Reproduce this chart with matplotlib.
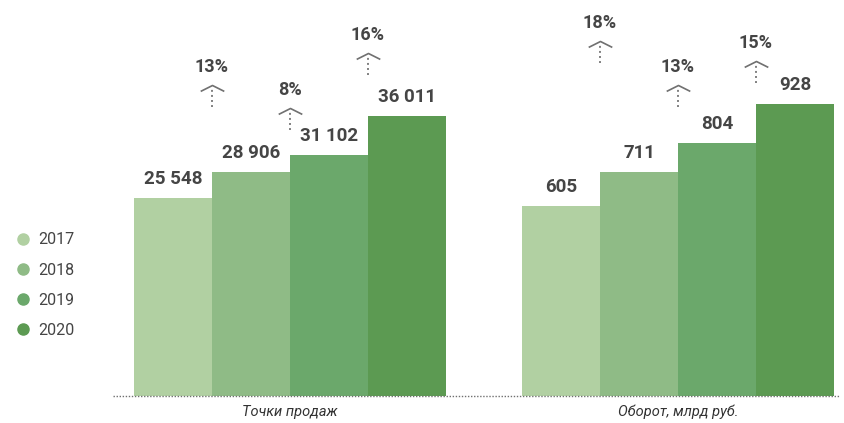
import matplotlib.pyplot as plt
from matplotlib.lines import Line2D
from matplotlib.path import Path

# ── Data ──────────────────────────────────────────────────────────────
YEARS = ["2017", "2018", "2019", "2020"]
CATEGORIES = ["Точки продаж", "Оборот, млрд руб."]
POINTS = [25548, 28906, 31102, 36011]
TURNOVER = [605, 711, 804, 928]
POINTS_GROWTH = ["13%", "8%", "16%"]
TURNOVER_GROWTH = ["18%", "13%", "15%"]

# ── Style ─────────────────────────────────────────────────────────────
COLORS = ["#b1d0a2", "#8fbb86", "#6ba86b", "#5c9a52"]
TEXT = "#454545"
W, H = 844, 423
BASE = 396  # baseline, px from top
# arrow bottoms (px from top) for the growth markers
POINTS_ARROW_Y = [107, 130, 75]
TURNOVER_ARROW_Y = [63, 107, 83]

plt.rcParams["font.family"] = ["Roboto", "DejaVu Sans"]

fig = plt.figure(figsize=(W / 100, H / 100), dpi=100)
fig.patch.set_facecolor("white")

CHEVRON = Path([(-1, -0.5), (0, 0), (1, -0.5)], [Path.MOVETO, Path.LINETO, Path.LINETO])


def fmt(v):
    return f"{v:,}".replace(",", " ")


def draw_group(left_px, values, growth, arrow_y, ymax, label):
    ax = fig.add_axes([left_px / W, (H - BASE) / H, 312 / W, BASE / H])
    x = range(len(values))
    ax.bar(x, values, width=1.0, color=COLORS, align="center")
    ax.set_xlim(-0.5, len(values) - 0.5)
    ax.set_ylim(0, ymax)
    ax.axis("off")
    for xi, v in zip(x, values):
        ax.annotate(fmt(v), (xi, v), xytext=(0, 10), textcoords="offset pixels",
                    ha="center", va="bottom", fontsize=13.5, fontweight="bold", color=TEXT)
    for i, (g, py) in enumerate(zip(growth, arrow_y)):
        xb = i + 0.5
        yb = (BASE - py) / BASE
        trans = ax.get_xaxis_transform()
        yt = yb + 22 / BASE
        ax.plot([xb, xb], [yb, yt - 3 / BASE], transform=trans, color="#808080",
                lw=1.4, ls=(0, (1, 1.6)), clip_on=False)
        ax.plot([xb], [yt], transform=trans, marker=CHEVRON, markersize=17,
                mfc="none", mec="#707070", mew=1.2, clip_on=False)
        ax.text(xb, yt + 9 / BASE, g, transform=trans, ha="center", va="bottom",
                fontsize=13, fontweight="bold", color=TEXT, clip_on=False)
    fig.text((left_px + 156) / W, 1 - 412 / H, label, ha="center", va="center",
             fontsize=10.5, style="italic", color="#333333")
    return ax


draw_group(134, POINTS, POINTS_GROWTH, POINTS_ARROW_Y, 51000, CATEGORIES[0])
draw_group(522, TURNOVER, TURNOVER_GROWTH, TURNOVER_ARROW_Y, 1259, CATEGORIES[1])

# dotted baseline
fig.add_artist(Line2D([113 / W, 840 / W], [1 - BASE / H, 1 - BASE / H],
                      color="#707070", lw=1.0, ls=(0, (1, 1.2))))

handles = [Line2D([], [], marker="o", ls="none", markersize=8, color=c) for c in COLORS]
fig.legend(handles, YEARS, loc="upper left", bbox_to_anchor=(2 / W, 1 - 218 / H),
           frameon=False, fontsize=11.5, labelspacing=0.95, handlelength=0.8,
           handletextpad=0.6, labelcolor=TEXT)

fig.savefig("out.png", dpi=100, facecolor="white")
